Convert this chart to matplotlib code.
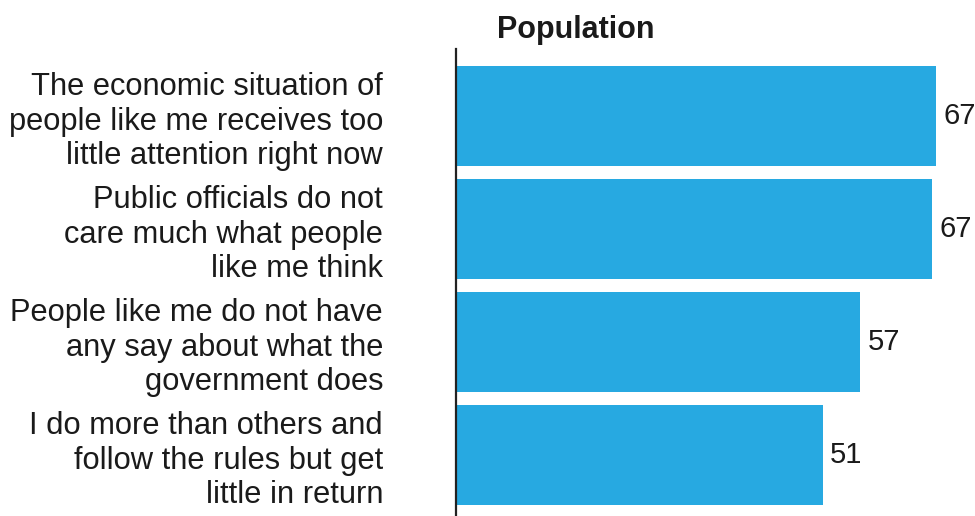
import matplotlib
matplotlib.use("Agg")
import matplotlib.pyplot as plt

plt.rcParams['font.family'] = ['Liberation Sans', 'DejaVu Sans']

statements = [
    "The economic situation of\npeople like me receives too\nlittle attention right now",
    "Public officials do not\ncare much what people\nlike me think",
    "People like me do not have\nany say about what the\ngovernment does",
    "I do more than others and\nfollow the rules but get\nlittle in return",
]
values = [67.4, 66.9, 56.8, 51.5]
value_labels = ["67", "67", "57", "51"]

bar_color = "#27A9E1"
text_color = "#1a1a1a"

fig = plt.figure(figsize=(9.75, 5.16), dpi=100)
ax = fig.add_axes([456 / 975, 0, 1 - 456 / 975, 1 - 49 / 516])

ypos = list(range(len(values)))
ax.barh(ypos, values, height=0.88, color=bar_color)
ax.set_xlim(0, 519 / 7.12)
ax.set_ylim(3.54, -0.593)

for y, v, lab in zip(ypos, values, value_labels):
    ax.text(v + 1.0, y, lab, va='center', ha='left', fontsize=21,
            color=text_color, clip_on=False)

ax.set_yticks(ypos)
ax.set_yticklabels(statements, fontsize=22.2, color=text_color,
                   ha='right', linespacing=1.2)
ax.tick_params(axis='y', length=0, pad=52.5)
ax.set_xticks([])

for side in ['top', 'right', 'bottom']:
    ax.spines[side].set_visible(False)
ax.spines['left'].set_linewidth(1.6)
ax.spines['left'].set_color('#222222')

fig.text(576 / 975, 1 - 30 / 516, "Population", ha='center', va='center',
         fontsize=22, fontweight='bold', color=text_color)

fig.savefig("out.png", dpi=100)
